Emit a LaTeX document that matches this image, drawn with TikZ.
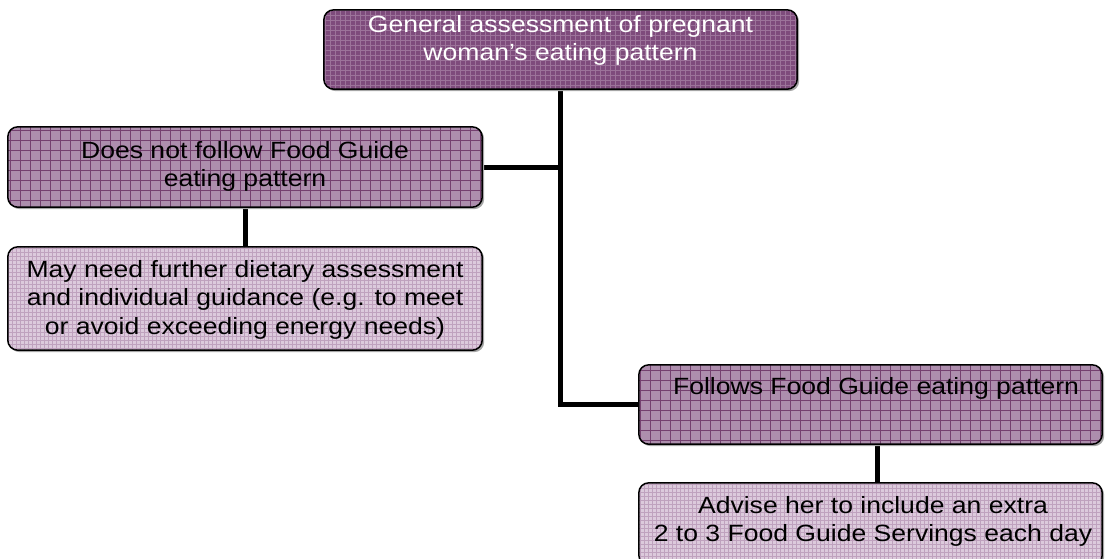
\documentclass[tikz,border=0pt]{standalone}
\usepackage{fontspec}
\newfontfamily\boxfont[FakeStretch=1.13]{Liberation Sans}
\definecolor{topfill}{HTML}{7E4B7C}
\definecolor{topgrid}{HTML}{9C739A}
\definecolor{midfill}{HTML}{AD8EAD}
\definecolor{midgrid}{HTML}{74406F}
\definecolor{lightfill}{HTML}{DCCADC}
\definecolor{lightgrid}{HTML}{BFA2BE}
\tikzset{
  x=1pt, y=-1pt,
  boxshape/.style={rectangle, inner sep=0pt, draw=none},
  boxborder/.style={draw=black, line width=1.5pt, rounded corners=10pt},
  topgridstyle/.style={draw=topgrid, line width=0.7pt, step=5pt},
  midgridstyle/.style={draw=midgrid, line width=0.8pt, step=10pt},
  lightgridstyle/.style={draw=lightgrid, line width=0.6pt, step=4pt},
  txt/.style={inner sep=0pt, align=center, anchor=north,
    font=\boxfont\fontsize{23.5}{28.5}\selectfont},
  conn/.style={draw=black, line width=5pt},
}
\newcommand\gridfill[3]{%
  \fill[black!35, rounded corners=10pt] ([shift={(2,2)}]#1.south west) rectangle ([shift={(2,2)}]#1.north east);
  \fill[#2, rounded corners=10pt] (#1.south west) rectangle (#1.north east);
  \begin{scope}
    \clip[rounded corners=10pt] (#1.south west) rectangle (#1.north east);
    \draw[#3] (#1.south west) grid (#1.north east);
  \end{scope}
  \draw[boxborder] (#1.south west) rectangle (#1.north east);
}
\begin{document}
\begin{tikzpicture}
\useasboundingbox (0,0) rectangle (1106,558);
% box shapes
\node[boxshape, minimum width=473pt, minimum height=79pt] (top) at (560.5,49.5) {};
\node[boxshape, minimum width=474pt, minimum height=80pt] (b2) at (245,167) {};
\node[boxshape, minimum width=474pt, minimum height=103pt] (b3) at (245,298.5) {};
\node[boxshape, minimum width=463pt, minimum height=79pt] (b4) at (870.5,404.5) {};
\node[boxshape, minimum width=463pt, minimum height=82pt] (b5) at (870.5,524) {};
% connectors
\draw[conn] (top.south) |- (b4.west);
\draw[conn] (b2.east) -- (top.south |- b2.east);
\draw[conn] (b2.south) -- (b3.north);
\coordinate (b4s) at ([xshift=6.5pt]b4.south);
\draw[conn] (b4s) -- (b4s |- b5.north);
% fills
\gridfill{top}{topfill}{topgridstyle}
\gridfill{b2}{midfill}{midgridstyle}
\gridfill{b3}{lightfill}{lightgridstyle}
\gridfill{b4}{midfill}{midgridstyle}
\gridfill{b5}{lightfill}{lightgridstyle}
% texts
\node[txt, text=white] (ttop) at (560.5,15) {General assessment of pregnant\\woman’s eating pattern};
\node[txt] (t2) at (245,141) {Does not follow Food Guide\\eating pattern};
\node[txt] (t3) at (245,260) {May need further dietary assessment\\and individual guidance (e.g. to meet\\or avoid exceeding energy needs)};
\node[txt] (t4) at (876,377) {Follows Food Guide eating pattern};
\node[txt] (t5) at (873,496) {Advise her to include an extra\\2 to 3 Food Guide Servings each day};
\end{tikzpicture}
\end{document}
